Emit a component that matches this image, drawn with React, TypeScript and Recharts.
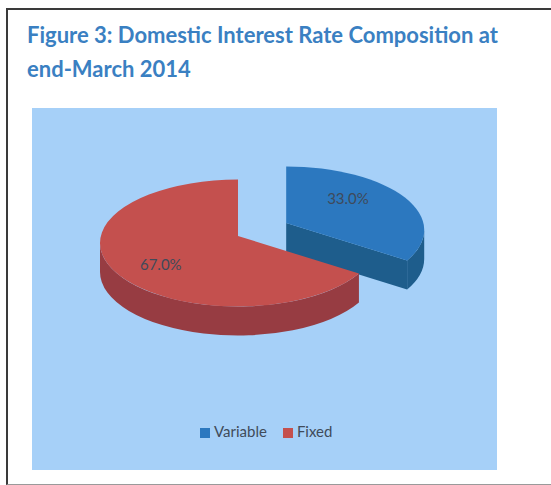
import { Legend, Pie, PieChart, Cell } from "recharts";

const categories = ["Variable", "Fixed"];
const shares = [33.0, 67.0];
const COLORS = ["#2C78BF", "#C4504E"];
const SIDES = ["#1E5D8C", "#973C42"];

const data = categories.map((name, i) => ({ name, value: shares[i] }));

const TILT = 0.46;
const DEPTH = 29;
const EXPLODE = 56;
const APEX = -7; // lifts the slice tip a little, like the perspective of the original
const RAD = Math.PI / 180;

// draws one slice as a tilted 3D wedge, from the angles recharts computed
const Slice3D = (props: any) => {
  const { cx, cy, outerRadius, startAngle, endAngle, midAngle, index, value } = props;
  const R = outerRadius;
  const ry = R * TILT;
  const off = index === 0 ? EXPLODE : 0;
  const ox = cx + off * Math.cos(midAngle * RAD);
  const oy = cy - off * TILT * Math.sin(midAngle * RAD);
  const a1 = Math.min(startAngle, endAngle);
  const a2 = Math.max(startAngle, endAngle);
  const pt = (a: number, d = 0) => [ox + R * Math.cos(a * RAD), oy - ry * Math.sin(a * RAD) + d];
  const f = (p: number[]) => `${p[0].toFixed(2)},${p[1].toFixed(2)}`;

  const walls: string[] = [];
  // front part of the outer wall (lower half of the ellipse)
  for (let k = -2; k <= 2; k++) {
    const lo = 180 + 360 * k;
    const hi = 360 + 360 * k;
    const b1 = Math.max(a1, lo);
    const b2 = Math.min(a2, hi);
    if (b2 - b1 > 0.01) {
      const big = b2 - b1 > 180 ? 1 : 0;
      walls.push(
        `M${f(pt(b1))} A${R},${ry} 0 ${big} 0 ${f(pt(b2))} L${f(pt(b2, DEPTH))} A${R},${ry} 0 ${big} 1 ${f(pt(b1, DEPTH))} Z`
      );
    }
  }
  const edges: string[] = [];
  const c = [ox, oy + APEX];
  const cd = [ox, oy + APEX + DEPTH];
  if (Math.cos(a1 * RAD) > 0.01) edges.push(`M${f(c)} L${f(pt(a1))} L${f(pt(a1, DEPTH))} L${f(cd)} Z`);
  if (Math.cos(a2 * RAD) < -0.01) edges.push(`M${f(c)} L${f(pt(a2))} L${f(pt(a2, DEPTH))} L${f(cd)} Z`);

  const big = a2 - a1 > 180 ? 1 : 0;
  const top = `M${f(c)} L${f(pt(a1))} A${R},${ry} 0 ${big} 0 ${f(pt(a2))} Z`;
  const fr = index === 0 ? 0.52 : 0.65;
  const lx = ox + fr * R * Math.cos(midAngle * RAD);
  const ly = oy - fr * ry * Math.sin(midAngle * RAD) - (index === 0 ? 15 : 0);

  return (
    <g>
      {edges.map((d, i) => (
        <path key={`e${i}`} d={d} fill={SIDES[index]} />
      ))}
      {walls.map((d, i) => (
        <path key={`w${i}`} d={d} fill={SIDES[index]} />
      ))}
      <path d={top} fill={COLORS[index]} />
      <text
        x={lx}
        y={ly}
        textAnchor="middle"
        dominantBaseline="central"
        fontSize={15}
        fontFamily="Lato, sans-serif"
        fill="#3F4A5A"
      >
        {`${value.toFixed(1)}%`}
      </text>
    </g>
  );
};

export default function App() {
  return (
    <div
      style={{
        position: "fixed",
        left: 0,
        top: 0,
        width: 551,
        height: 485,
        background: "#fff",
        overflow: "hidden",
      }}
    >
      <div
        style={{
          position: "absolute",
          left: 6,
          top: 8,
          width: 560,
          height: 474,
          borderLeft: "2px solid #3a3a3a",
          borderTop: "2px solid #3a3a3a",
          borderBottom: "1px solid #9a9a9a",
        }}
      />
      <div
        style={{
          position: "absolute",
          left: 27,
          top: 18,
          width: 520,
          fontFamily: "Lato, 'Open Sans', sans-serif",
          fontWeight: 700,
          fontSize: 22,
          lineHeight: "34px",
          color: "#3A80C2",
        }}
      >
        Figure 3: Domestic Interest Rate Composition at
        <br />
        end-March 2014
      </div>
      <div
        style={{
          position: "absolute",
          left: 32,
          top: 108,
          width: 465,
          height: 362,
          background: "#A6D0F8",
        }}
      />
      <div style={{ position: "absolute", left: 0, top: 0 }}>
        <PieChart width={551} height={485}>
          <Pie
            data={data}
            dataKey="value"
            nameKey="name"
            cx={233}
            cy={238}
            outerRadius={138}
            startAngle={90}
            endAngle={-270}
            fillOpacity={0}
            stroke="none"
            labelLine={false}
            label={Slice3D}
            isAnimationActive={false}
            legendType="square"
          >
            {data.map((entry, index) => (
              <Cell key={`cell-${entry.name}`} fill={COLORS[index]} />
            ))}
          </Pie>
          <Legend
            verticalAlign="bottom"
            align="left"
            iconSize={10}
            itemSorter={(item: any) => categories.indexOf(item.value)}
            wrapperStyle={{ left: 200, top: 422, bottom: "auto", width: 170, fontSize: 15, fontFamily: "Lato, sans-serif" }}
            formatter={(value) => <span style={{ color: "#404B5A", marginRight: 6 }}>{value}</span>}
          />
        </PieChart>
      </div>
    </div>
  );
}
